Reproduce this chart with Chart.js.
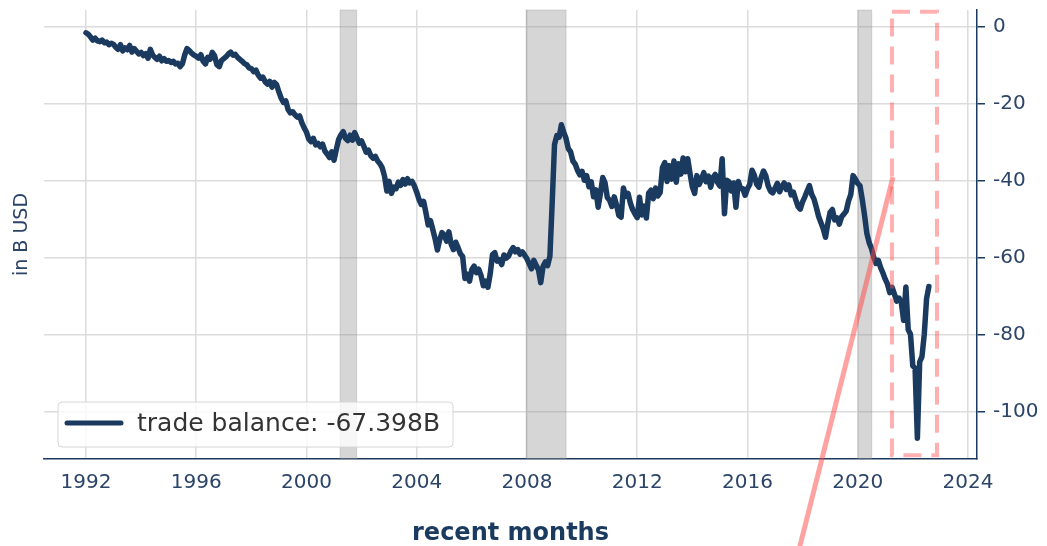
<!DOCTYPE html>
<html>
<head>
<meta charset="utf-8">
<script src="https://cdn.jsdelivr.net/npm/chart.js@4.4.0/dist/chart.umd.min.js"></script>
<style>
  html, body { margin: 0; padding: 0; background: #fff; }
</style>
</head>
<body>
<canvas id="chart" width="1047" height="546"></canvas>
<script>
// monthly trade balance in B USD, Jan 1992 - Aug 2022
const startYear = 1992;
const balance1990s = [
  -1.5, -1.9, -2.6, -3.4, -2.9, -3.6, -3.8, -3.4, -4.1, -3.9, -4.6, -4.2,
  -4.5, -5.3, -5.8, -4.6, -6.2, -5.4, -5.9, -4.8, -6.5, -5.6, -6.3, -7.0,
  -6.6, -7.4, -6.9, -8.1, -5.8, -7.3, -7.9, -8.4, -7.6, -8.8, -8.2, -8.9,
  -8.7, -9.2, -8.9, -9.6, -9.4, -10.3, -9.5, -7.2, -5.6, -6.1, -6.8, -7.3,
  -7.6, -8.1, -7.2, -8.9, -9.6, -7.9, -8.4, -6.6, -7.5, -9.8, -10.3, -8.7,
  -8.2, -7.7, -7.0, -6.5, -7.3, -7.1, -7.9, -8.4, -8.9, -9.5, -9.8, -10.6,
  -10.8, -11.6, -11.2, -12.5, -13.3, -13.0, -14.2, -14.8, -14.1, -15.6, -14.4, -15.0,
  -16.9, -18.5, -19.6, -19.2, -21.4, -22.3, -22.0, -22.8, -23.4, -23.1, -24.9, -26.2
];
const balance2000s = [
  -27.3, -29.1, -29.8, -28.9, -30.6, -30.2, -31.1, -30.4, -32.2, -33.0, -33.9, -32.4,
  -34.6, -31.8, -29.2, -28.0, -27.2, -28.9, -29.5, -28.1, -29.4, -27.4, -28.8, -30.2,
  -29.6, -31.0, -32.5, -32.0, -33.4, -34.1, -33.6, -34.8, -35.5, -36.6, -38.8, -42.6,
  -40.1, -43.2, -41.6, -42.0, -40.3, -41.1, -39.6, -40.8, -39.4, -40.5, -40.1, -41.3,
  -42.9, -44.8, -46.1, -45.3, -48.2, -51.4, -50.3, -52.6, -55.0, -57.9, -55.3, -53.4,
  -54.0, -55.6, -53.2, -56.4, -57.8, -55.9, -57.3, -58.9, -59.6, -65.3, -64.2, -66.0,
  -63.0, -62.1, -63.8, -62.9, -64.5, -67.2, -66.0, -67.6, -64.1, -59.1, -58.6, -60.8,
  -60.4, -61.7, -59.2, -60.0, -59.5, -58.2, -57.3, -58.4, -57.8, -59.0, -58.4, -59.3,
  -60.2, -61.5, -62.8, -60.6, -61.9, -63.0, -66.4, -62.2, -61.0, -62.0, -59.5, -45.5,
  -30.5, -28.2, -28.6, -25.4, -27.3, -28.9, -31.6, -32.4, -34.8, -35.6, -37.2, -38.4
];
const balance2010s = [
  -37.5, -39.8, -38.6, -41.5, -40.2, -44.1, -42.3, -46.8, -43.2, -39.1, -40.5, -44.3,
  -45.0, -46.6, -44.1, -46.2, -48.9, -49.4, -41.8, -44.0, -43.2, -45.7, -47.4, -48.5,
  -49.5, -44.2, -48.8, -46.5, -49.6, -43.1, -42.4, -44.6, -41.8, -43.9, -43.0, -36.5,
  -35.2, -40.1, -36.0, -39.5, -34.8, -40.3, -35.5, -38.2, -34.0, -37.6, -34.2, -38.0,
  -41.5, -43.2, -38.6, -40.9, -39.5, -37.8, -40.2, -38.7, -41.6, -39.1, -38.3, -40.4,
  -41.3, -34.2, -48.5, -39.8, -40.2, -42.6, -40.5, -46.8, -40.1, -41.9, -42.0, -43.7,
  -42.0, -40.9, -37.2, -38.5, -40.8, -41.6, -39.0, -37.4, -38.6, -41.2, -42.6, -43.1,
  -41.9, -40.6, -42.8, -41.4, -40.5, -42.2, -41.0, -43.6, -42.9, -44.8, -46.6, -47.3,
  -45.4, -44.1, -42.6, -41.2, -43.5, -44.7, -46.9, -49.2, -50.8, -52.4, -54.6, -51.0,
  -48.1, -47.4, -50.1, -49.6, -51.2, -49.3, -48.6, -47.8, -45.2, -43.5, -38.6, -39.5
];
const balance2020s = [
  -40.6, -41.2, -44.8, -48.9, -53.6, -56.0, -57.5, -59.8, -61.4, -60.6, -62.5, -63.9,
  -65.5, -66.8, -69.0, -67.6, -69.4, -71.2, -70.4, -71.5, -76.2, -67.5, -78.6, -79.8,
  -88.0, -88.6, -106.8, -87.0, -85.6, -79.8, -70.6, -67.398
];

const xTicks = [1992, 1996, 2000, 2004, 2008, 2012, 2016, 2020, 2024];
const yTicks = [-100, -80, -60, -40, -20, 0];

// recession periods (decimal years)
const recessionStart = [2001.22, 2007.97, 2020.02];
const recessionEnd = [2001.82, 2009.42, 2020.51];

// highlighted recent window and its link line
const zoomBoxX = [2021.245, 2022.878];
const zoomBoxY = [3.97, -111.2];
const linkX = [2021.28, 2017.37];
const linkY = [-38.96, -150];

const allValues = balance1990s.concat(balance2000s, balance2010s, balance2020s);
const points = allValues.map((v, i) => ({ x: startYear + i / 12, y: v }));
const latest = allValues[allValues.length - 1];
const linkPoints = linkX.map((x, i) => ({ x: x, y: linkY[i] }));

const navy = "#1b3a5f";
const tickColor = "#2b4468";
const gridColor = "#dcdcdc";

const bandsPlugin = {
  id: "recessionBands",
  beforeDatasetsDraw(chart) {
    const ctx = chart.ctx;
    const xs = chart.scales.x;
    const area = chart.chartArea;
    ctx.save();
    for (let i = 0; i < recessionStart.length; i++) {
      const x0 = xs.getPixelForValue(recessionStart[i]);
      const x1 = xs.getPixelForValue(recessionEnd[i]);
      ctx.fillStyle = "rgba(140,140,140,0.36)";
      ctx.fillRect(x0, area.top, x1 - x0, area.bottom - area.top);
      ctx.strokeStyle = "rgba(140,140,140,0.3)";
      ctx.lineWidth = 1;
      ctx.strokeRect(x0, area.top, x1 - x0, area.bottom - area.top);
    }
    ctx.restore();
  }
};

const boxPlugin = {
  id: "zoomBox",
  afterDatasetsDraw(chart) {
    const ctx = chart.ctx;
    const xs = chart.scales.x, ys = chart.scales.y;
    const x0 = xs.getPixelForValue(zoomBoxX[0]);
    const x1 = xs.getPixelForValue(zoomBoxX[1]);
    const y0 = ys.getPixelForValue(zoomBoxY[0]);
    const y1 = ys.getPixelForValue(zoomBoxY[1]);
    ctx.save();
    ctx.strokeStyle = "rgba(255,80,80,0.45)";
    ctx.lineWidth = 4;
    ctx.setLineDash([18, 10]);
    ctx.strokeRect(x0, y0, x1 - x0, y1 - y0);
    ctx.restore();
  }
};

const legendPlugin = {
  id: "insetLegend",
  afterDraw(chart) {
    const ctx = chart.ctx;
    const area = chart.chartArea;
    const ds = chart.data.datasets[0];
    const x = area.left + 14, y = area.bottom - 57, w = 395, h = 45;
    ctx.save();
    ctx.beginPath();
    ctx.roundRect(x, y, w, h, 4);
    ctx.fillStyle = "rgba(255,255,255,0.8)";
    ctx.fill();
    ctx.strokeStyle = "#d6d6d6";
    ctx.lineWidth = 1;
    ctx.stroke();
    ctx.beginPath();
    ctx.moveTo(x + 9, y + 21);
    ctx.lineTo(x + 63, y + 21);
    ctx.strokeStyle = ds.borderColor;
    ctx.lineWidth = 5;
    ctx.lineCap = "round";
    ctx.stroke();
    ctx.fillStyle = "#333333";
    ctx.font = "25px 'DejaVu Sans'";
    ctx.textBaseline = "middle";
    ctx.fillText(ds.label, x + 79, y + 22);
    ctx.restore();
  }
};

const ctx = document.getElementById("chart").getContext("2d");
new Chart(ctx, {
  type: "line",
  data: {
    datasets: [
      {
        label: "trade balance: " + latest.toFixed(3) + "B",
        data: points,
        borderColor: navy,
        borderWidth: 5.5,
        borderJoinStyle: "round",
        borderCapStyle: "round",
        pointRadius: 0,
        tension: 0,
        order: 1
      },
      {
        label: "link",
        data: linkPoints,
        borderColor: "rgba(255,70,70,0.5)",
        borderWidth: 5,
        pointRadius: 0,
        clip: false,
        order: 0
      }
    ]
  },
  options: {
    responsive: false,
    animation: false,
    layout: { padding: { top: 0 } },
    plugins: { legend: { display: false }, tooltip: { enabled: false } },
    scales: {
      x: {
        type: "linear",
        min: 1990.476,
        max: 2024.33,
        afterBuildTicks: (s) => { s.ticks = xTicks.map((v) => ({ value: v })); },
        afterFit: (s) => { s.height = 87; },
        grid: { color: gridColor, lineWidth: 1.5, drawTicks: false },
        border: { display: true, color: navy, width: 1.5 },
        ticks: {
          color: tickColor,
          font: { family: "DejaVu Sans", size: 20 },
          padding: 12,
          maxRotation: 0,
          autoSkip: false,
          callback: (v) => String(v)
        },
        title: {
          display: true,
          text: "recent months",
          color: navy,
          font: { family: "DejaVu Sans", size: 24, weight: "bold" },
          padding: { top: 0, bottom: -2 }
        }
      },
      y: {
        position: "right",
        min: -112.2,
        max: 4.42,
        afterBuildTicks: (s) => { s.ticks = yTicks.map((v) => ({ value: v })); },
        afterFit: (s) => { s.width = 70; },
        grid: { color: gridColor, lineWidth: 1.5, tickColor: navy, tickLength: 8 },
        border: { display: true, color: navy, width: 1.5 },
        ticks: {
          color: tickColor,
          font: { family: "DejaVu Sans", size: 20, lineHeight: 0.2 },
          padding: 8
        }
      },
      yl: {
        position: "left",
        grid: { display: false },
        border: { display: false },
        ticks: { display: false },
        afterFit: (s) => { s.width = 44; },
        title: {
          display: true,
          text: "in B USD",
          color: tickColor,
          font: { family: "DejaVu Sans", size: 19 },
          padding: { top: 11, bottom: 0 }
        }
      }
    }
  },
  plugins: [bandsPlugin, boxPlugin, legendPlugin]
});
</script>
</body>
</html>
